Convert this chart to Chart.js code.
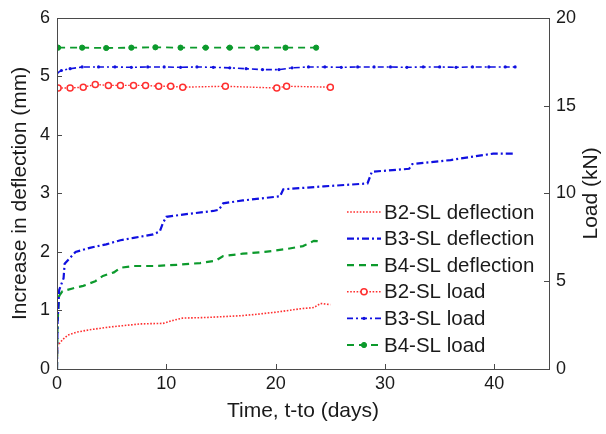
<!DOCTYPE html>
<html><head><meta charset="utf-8">
<script src="https://cdn.jsdelivr.net/npm/chart.js@4"></script>
<style>html,body{margin:0;padding:0;background:#fff;}canvas{display:block;}</style>
</head><body>
<canvas id="c" width="606" height="434"></canvas>
<script>
// ---- data (time in days, deflection in mm, load in kN) ----
const b2DefT = [0,0.05,0.5,1.0,1.8,3,4.5,6,7.6,9.7,10.6,11.5,13.7,16.8,18,20,22.3,23.5,24.1,25];
const b2DefV = [0,0.40,0.50,0.58,0.63,0.67,0.71,0.74,0.77,0.78,0.83,0.87,0.88,0.91,0.93,0.97,1.03,1.05,1.12,1.10];
const b3DefT = [0,0.05,0.2,0.4,0.6,0.7,1.2,1.7,3,4.5,5.8,7,8.8,9.4,9.7,10,12,14.3,14.8,15.2,17,20.4,20.7,24.4,28.4,28.8,32.2,32.5,36,39.9,41.8];
const b3DefV = [0,0.80,1.35,1.45,1.55,1.80,1.90,2.00,2.07,2.13,2.20,2.24,2.30,2.35,2.50,2.60,2.65,2.70,2.72,2.83,2.88,2.95,3.07,3.12,3.17,3.37,3.42,3.50,3.57,3.68,3.68];
const b4DefT = [0,0.05,0.2,0.5,1.5,2.4,3.5,4.2,5.2,5.8,7,9,11,13.1,14.5,15.2,17,19,21,22.5,23.5,24];
const b4DefV = [0,0.80,1.25,1.33,1.38,1.42,1.50,1.59,1.65,1.73,1.76,1.76,1.78,1.81,1.85,1.93,1.97,2.00,2.05,2.10,2.19,2.18];
const b2LoadT = [0.1,1.2,2.4,3.5,4.7,5.8,7.0,8.1,9.3,10.4,11.5,15.4,20.1,21,25];
const b2LoadV = [16.0,16.0,16.05,16.2,16.15,16.15,16.15,16.15,16.1,16.1,16.05,16.1,16.0,16.1,16.05];
const b3LoadT = [0,0.4,1.2,2.3,3.8,5.3,6.8,8.3,9.8,11.3,12.8,14.3,15.8,17.3,18.8,20.3,21.5,23,24.5,26,27.5,29,30.5,32,33.5,35,36.5,38,39.5,41,41.9];
const b3LoadV = [16.85,17.0,17.1,17.2,17.2,17.2,17.18,17.2,17.2,17.18,17.2,17.18,17.15,17.1,17.05,17.05,17.15,17.2,17.2,17.18,17.2,17.2,17.2,17.18,17.2,17.2,17.18,17.2,17.2,17.2,17.2];
const b4LoadT = [0.1,2.3,4.5,6.8,9.0,11.3,13.6,15.8,18.3,20.9,23.7];
const b4LoadV = [18.3,18.3,18.28,18.3,18.32,18.3,18.3,18.3,18.3,18.3,18.3];
const xTicks = [0,10,20,30,40];
const leftTicks = [0,1,2,3,4,5,6];
const rightTicks = [0,5,10,15,20];
const seriesNames = ['B2-SL deflection','B3-SL deflection','B4-SL deflection','B2-SL load','B3-SL load','B4-SL load'];
const rightTitle = 'Load (kN)';

const RED = '#ff3030', BLUE = '#1010e0', GREEN = '#0c9a2c';
const FONT = "'Liberation Sans', Arial, sans-serif";
const toPts = (t, v) => t.map((x, i) => ({x: x, y: v[i]}));

const datasets = [
  {label: seriesNames[0], data: toPts(b2DefT, b2DefV), yAxisID: 'y', borderColor: RED, borderWidth: 1.6, borderDash: [1.6, 1.6], pointRadius: 0},
  {label: seriesNames[1], data: toPts(b3DefT, b3DefV), yAxisID: 'y', borderColor: BLUE, borderWidth: 2.2, borderDash: [7, 3, 2, 3], pointRadius: 0},
  {label: seriesNames[2], data: toPts(b4DefT, b4DefV), yAxisID: 'y', borderColor: GREEN, borderWidth: 2.2, borderDash: [7, 5], pointRadius: 0},
  {label: seriesNames[3], data: toPts(b2LoadT, b2LoadV), yAxisID: 'y1', borderColor: RED, borderWidth: 1.4, borderDash: [1.6, 1.6],
    pointRadius: 3, pointBorderWidth: 1.5, pointBackgroundColor: '#fff', pointBorderColor: RED},
  {label: seriesNames[4], data: toPts(b3LoadT, b3LoadV), yAxisID: 'y1', borderColor: BLUE, borderWidth: 1.6, borderDash: [6, 3, 2, 3],
    pointRadius: 1.6, pointBorderWidth: 0, pointBackgroundColor: BLUE},
  {label: seriesNames[5], data: toPts(b4LoadT, b4LoadV), yAxisID: 'y1', borderColor: GREEN, borderWidth: 1.8, borderDash: [7, 5],
    pointRadius: 2.6, pointBorderWidth: 1, pointBackgroundColor: GREEN, pointBorderColor: GREEN}
];

const frame = {
  id: 'frame',
  afterDraw(chart) {
    const ctx = chart.ctx, a = chart.chartArea;
    const sx = chart.scales.x, sy = chart.scales.y, sy1 = chart.scales.y1;
    ctx.save();
    ctx.strokeStyle = '#4a4a4a'; ctx.lineWidth = 1; ctx.setLineDash([]);
    ctx.strokeRect(Math.round(a.left) + 0.5, Math.round(a.top) + 0.5, Math.round(a.right - a.left), Math.round(a.bottom - a.top));
    const L = 5;
    ctx.beginPath();
    xTicks.forEach(v => { const px = Math.round(sx.getPixelForValue(v)) + 0.5; ctx.moveTo(px, a.bottom); ctx.lineTo(px, a.bottom - L); });
    leftTicks.forEach(v => { const py = Math.round(sy.getPixelForValue(v)) + 0.5; ctx.moveTo(a.left, py); ctx.lineTo(a.left + L, py); });
    rightTicks.forEach(v => { const py = Math.round(sy1.getPixelForValue(v)) + 0.5; ctx.moveTo(a.right, py); ctx.lineTo(a.right - L, py); });
    ctx.stroke();
    // right axis title, reading bottom-to-top
    ctx.save();
    ctx.translate(591, (a.top + a.bottom) / 2);
    ctx.rotate(-Math.PI / 2);
    ctx.font = '21px ' + FONT; ctx.fillStyle = '#1a1a1a'; ctx.textAlign = 'center'; ctx.textBaseline = 'middle';
    ctx.fillText(rightTitle, 0, 0);
    ctx.restore();
    // legend
    const rowY0 = 212, rowStep = 26.6, x0 = 347, x1 = 381, tx = 384;
    ctx.font = '20.5px ' + FONT; ctx.textBaseline = 'middle'; ctx.textAlign = 'left';
    chart.data.datasets.forEach((d, i) => {
      const y = rowY0 + i * rowStep;
      ctx.strokeStyle = d.borderColor; ctx.lineWidth = d.borderWidth; ctx.setLineDash(d.borderDash);
      ctx.beginPath(); ctx.moveTo(x0, y); ctx.lineTo(x1, y); ctx.stroke();
      ctx.setLineDash([]);
      if (d.pointRadius > 0) {
        ctx.beginPath(); ctx.arc((x0 + x1) / 2, y, d.pointRadius, 0, Math.PI * 2);
        ctx.fillStyle = d.pointBackgroundColor; ctx.fill();
        if (d.pointBorderWidth > 0) { ctx.lineWidth = d.pointBorderWidth; ctx.strokeStyle = d.pointBorderColor; ctx.stroke(); }
      }
      ctx.fillStyle = '#1a1a1a';
      ctx.fillText(d.label, tx, y + 1);
    });
    ctx.restore();
  }
};

const tickFont = {family: FONT, size: 18};
const titleFont = {family: FONT, size: 21};
new Chart(document.getElementById('c'), {
  type: 'line',
  data: {datasets: datasets},
  options: {
    responsive: false, animation: false,
    layout: {padding: {top: 15, left: 8, right: 0, bottom: 10}},
    plugins: {legend: {display: false}, tooltip: {enabled: false}},
    elements: {line: {tension: 0, fill: false}},
    scales: {
      x: {type: 'linear', position: 'bottom', min: 0, max: 45,
        afterBuildTicks: s => { s.ticks = xTicks.map(v => ({value: v})); },
        ticks: {font: tickFont, color: '#1a1a1a', padding: 4, maxRotation: 0},
        grid: {display: false, drawTicks: false}, border: {display: false},
        title: {display: true, text: 'Time, t-to (days)', font: titleFont, color: '#1a1a1a', padding: {top: 2, bottom: 0}},
        afterFit: s => { s.height = 55; }},
      y: {type: 'linear', position: 'left', min: 0, max: 6,
        afterBuildTicks: s => { s.ticks = leftTicks.map(v => ({value: v})); },
        ticks: {font: tickFont, color: '#1a1a1a', padding: 7},
        grid: {display: false, drawTicks: false}, border: {display: false},
        title: {display: true, text: 'Increase in deflection (mm)', font: titleFont, color: '#1a1a1a', padding: {top: 0, bottom: 2}},
        afterFit: s => { s.width = 49; }},
      y1: {type: 'linear', position: 'right', min: 0, max: 20,
        afterBuildTicks: s => { s.ticks = rightTicks.map(v => ({value: v})); },
        ticks: {font: tickFont, color: '#1a1a1a', padding: 7},
        grid: {display: false, drawTicks: false}, border: {display: false},
        title: {display: false},
        afterFit: s => { s.width = 57; }}
    }
  },
  plugins: [frame]
});
</script>
</body></html>
